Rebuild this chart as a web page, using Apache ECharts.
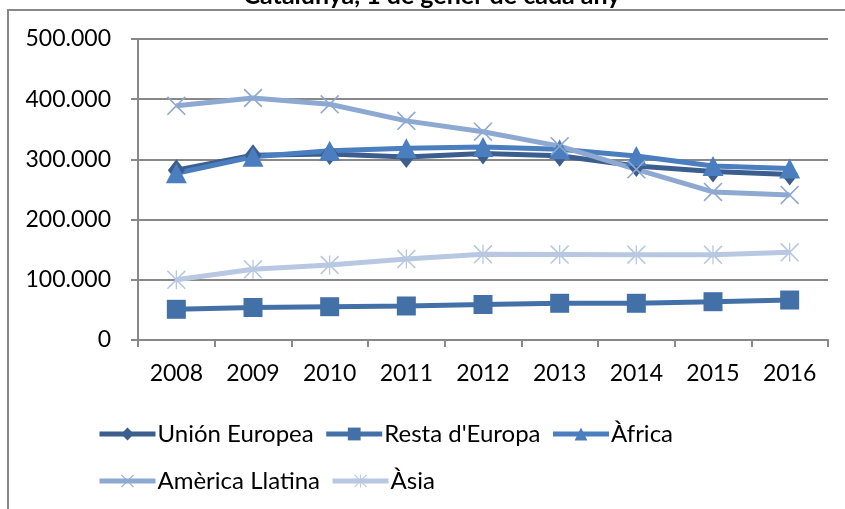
<!DOCTYPE html>
<html>
<head>
<meta charset="utf-8">
<script src="https://cdn.jsdelivr.net/npm/echarts@6/dist/echarts.min.js"></script>
<style>
html,body{margin:0;padding:0;background:#fff;}
#c{width:845px;height:509px;}
</style>
</head>
<body>
<div id="c"></div>
<script>
const titleText = 'Catalunya, 1 de gener de cada any';
const years = ['2008','2009','2010','2011','2012','2013','2014','2015','2016'];
const unionEuropea = [282000, 307000, 309000, 304000, 310000, 306000, 289000, 280000, 275000];
const restaEuropa = [51000, 54000, 55300, 56500, 59000, 61000, 61000, 63600, 66400];
const africa = [277000, 304500, 314500, 318400, 320500, 316800, 305600, 289000, 285000];
const americaLlatina = [389000, 402000, 391500, 364000, 346000, 322000, 283500, 246000, 241000];
const asia = [100000, 117400, 124600, 134500, 142300, 142000, 141700, 141500, 145600];
const seriesNames = ['Unión Europea', "Resta d'Europa", 'Àfrica', 'Amèrica Llatina', 'Àsia'];
const yTicks = [0, 100000, 200000, 300000, 400000, 500000];

const FONT = 'Lato';
const xPath = 'path://M0,1.2 L1.2,0 L10,8.8 L18.8,0 L20,1.2 L11.2,10 L20,18.8 L18.8,20 L10,11.2 L1.2,20 L0,18.8 L8.8,10 Z';
const starPath = 'path://M0,1.2 L1.2,0 L10,8.8 L18.8,0 L20,1.2 L11.2,10 L20,18.8 L18.8,20 L10,11.2 L1.2,20 L0,18.8 L8.8,10 Z M9.3,0 L10.7,0 L10.7,20 L9.3,20 Z';

function fmt(v){
  if (v === 0) return '0';
  return String(v).replace(/\B(?=(\d{3})+(?!\d))/g, '.');
}

const chart = echarts.init(document.getElementById('c'), null, {renderer:'canvas'});
const colors = ['#3B5E8E', '#4470A8', '#4A7EBE', '#8EA9D1', '#B8C8E2'];
const dataArr = [unionEuropea, restaEuropa, africa, americaLlatina, asia];
const symbols = ['diamond', 'rect', 'triangle', xPath, starPath];
const sizes = [[17,22], 19, [21,20], 19, 19];

const series = seriesNames.map((n,i)=>({
  name: n,
  type: 'line',
  data: dataArr[i],
  symbol: symbols[i],
  symbolSize: sizes[i],
  showAllSymbol: true,
  lineStyle: {color: colors[i], width: 5},
  itemStyle: {color: colors[i]},
  emphasis: {disabled: true},
  animation: false
}));

const legendCommon = {
  left: 92,
  itemWidth: 56,
  itemHeight: 16,
  itemGap: 10,
  lineStyle: {width: 5},
  textStyle: {fontFamily: FONT, fontSize: 24, color: '#000', padding: [0,0,0,-3]},
  selectedMode: false
};

chart.setOption({
  animation: false,
  color: colors,
  grid: {left: 138, right: 17, top: 39, bottom: 169, containLabel: false},
  xAxis: {
    type: 'category',
    data: years,
    boundaryGap: true,
    axisLine: {lineStyle: {color: '#888', width: 2}},
    axisTick: {show: true, length: 7, alignWithLabel: false, lineStyle: {color: '#888', width: 2}},
    axisLabel: {fontFamily: FONT, fontSize: 23, color: '#000', margin: 22}
  },
  yAxis: {
    type: 'value',
    min: yTicks[0],
    max: yTicks[yTicks.length-1],
    interval: 100000,
    axisLine: {show: true, lineStyle: {color: '#888', width: 2}},
    axisTick: {show: true, length: 7, lineStyle: {color: '#888', width: 2}},
    splitLine: {lineStyle: {color: '#888', width: 2}},
    axisLabel: {fontFamily: FONT, fontSize: 23, color: '#000', margin: 27, formatter: fmt}
  },
  legend: [
    Object.assign({}, legendCommon, {top: 417, data: seriesNames.slice(0,3)}),
    Object.assign({}, legendCommon, {top: 464, data: seriesNames.slice(3)})
  ],
  graphic: [
    {type: 'rect', silent: true, shape: {x: 8, y: 10, width: 900, height: 600},
     style: {fill: 'none', stroke: '#888', lineWidth: 2}},
    {type: 'text', silent: true, x: 432, y: 8,
     style: {text: titleText, font: 'bold 25px Lato', fill: '#000', align: 'center', verticalAlign: 'bottom'}}
  ],
  series: series
});
</script>
</body>
</html>
